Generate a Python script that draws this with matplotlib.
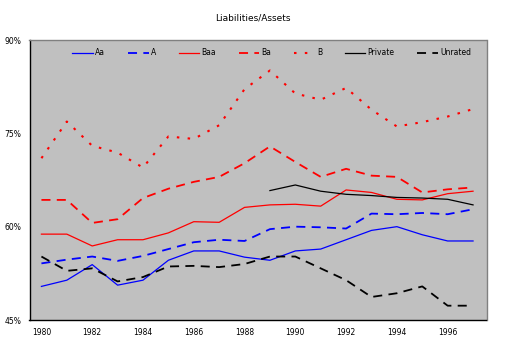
import matplotlib
matplotlib.use("Agg")
import matplotlib.pyplot as plt
import numpy as np

years = list(range(1980, 1998))
years_private = list(range(1989, 1998))

aa = [50.4, 51.4, 53.9, 50.6, 51.4, 54.6, 56.1, 56.1, 55.1, 54.6,
      56.1, 56.4, 57.9, 59.4, 60.0, 58.7, 57.7, 57.7]
a = [54.1, 54.7, 55.2, 54.5, 55.3, 56.4, 57.5, 57.9, 57.7, 59.6,
     60.0, 59.9, 59.7, 62.1, 62.0, 62.2, 62.0, 62.8]
baa = [58.8, 58.8, 56.9, 57.9, 57.9, 59.0, 60.8, 60.7, 63.1, 63.5,
       63.6, 63.3, 65.9, 65.5, 64.4, 64.3, 65.3, 65.7]
ba = [64.3, 64.3, 60.6, 61.2, 64.6, 66.1, 67.2, 68.0, 70.2, 72.9,
      70.4, 68.0, 69.3, 68.2, 68.0, 65.5, 66.0, 66.3]
b = [71.0, 76.9, 73.0, 71.9, 69.5, 74.5, 74.1, 76.3, 82.1, 85.1,
     81.4, 80.4, 82.3, 78.8, 76.1, 76.8, 77.7, 78.9]
private = [65.8, 66.7, 65.7, 65.2, 65.0, 64.7, 64.6, 64.4, 63.5]
unrated = [55.2, 52.9, 53.3, 51.2, 51.9, 53.6, 53.7, 53.5, 54.0, 55.2,
           55.2, 53.3, 51.4, 48.7, 49.3, 50.4, 47.3, 47.3]

y_ticks = [45, 60, 75, 90]
x_ticks = list(range(1980, 1997, 2))

fig = plt.figure(figsize=(5.05, 3.45), dpi=100)
ax = fig.add_axes([29.5 / 505, 1 - 320 / 345, 457 / 505, 280 / 345])
ax.set_facecolor("#C0C0C0")

dash = (0, (5, 3.5))
dot = (0, (1.2, 4))
ax.plot(years, aa, color="#0000FF", lw=0.9, label="Aa")
ax.plot(years, a, color="#0000FF", lw=1.3, ls=dash, label="A")
ax.plot(years, baa, color="#FF0000", lw=0.9, label="Baa")
ax.plot(years, ba, color="#FF0000", lw=1.3, ls=dash, label="Ba")
ax.plot(years, b, color="#FF0000", lw=1.5, ls=dot, label="B")
ax.plot(years_private, private, color="black", lw=0.9, label="Private")
ax.plot(years, unrated, color="black", lw=1.3, ls=dash, label="Unrated")

ax.set_xlim(1979.53, 1997.53)
ax.set_ylim(45, 90)
ax.set_yticks(y_ticks)
ax.set_yticklabels([f"{v}%" for v in y_ticks])
ax.set_xticks(x_ticks)
ax.set_xticklabels([str(v) for v in x_ticks])
ax.tick_params(length=0, labelsize=5.5, pad=6)
ax.tick_params(axis="y", pad=6)

for side in ("top", "right"):
    ax.spines[side].set_color("#808080")
    ax.spines[side].set_linewidth(1.0)
for side in ("left", "bottom"):
    ax.spines[side].set_color("black")
    ax.spines[side].set_linewidth(1.0)

ax.legend(loc="upper center", ncol=7, frameon=False, fontsize=5.5,
          handlelength=2.7, handletextpad=0.3, columnspacing=2.95,
          bbox_to_anchor=(0.53, 0.995))

fig.text(0.5, 1 - 18 / 345, "Liabilities/Assets", ha="center", va="center",
         fontsize=6.5)

fig.savefig("out.png", dpi=100, facecolor="white")
